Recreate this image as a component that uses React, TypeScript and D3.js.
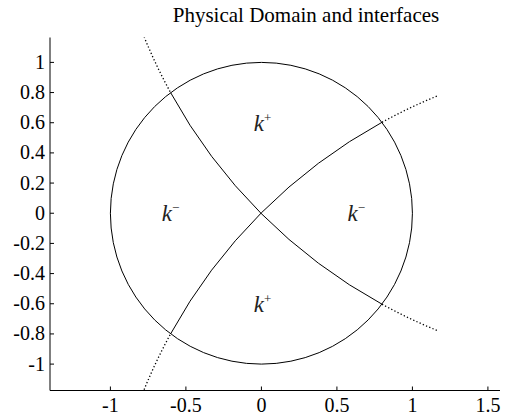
import React from "react";
import * as d3 from "d3";

// axis ticks
const xTicks = [-1, -0.5, 0, 0.5, 1, 1.5];
const yTicks = [-1, -0.8, -0.6, -0.4, -0.2, 0, 0.2, 0.4, 0.6, 0.8, 1];

// physical domain: unit circle
const domainCenter = [0, 0];
const domainRadius = 1;

// two interfaces, each a circular arc through the origin
const interfaceCenters = [
  [2.5, 2.5],
  [2.5, -2.5],
];
const interfaceRadius = 3.536;
// where each interface meets the circle
const interfaceInside = [
  [[-0.6, 0.8], [0.8, -0.6]],
  [[-0.6, -0.8], [0.8, 0.6]],
];
// where the dotted continuation stops
const interfaceOutside = [
  [[-0.79, 1.19], [1.175, -0.778]],
  [[-0.79, -1.19], [1.175, 0.778]],
];

const regionLabels = [
  { sign: "+", x: -0.05, y: 0.6 },
  { sign: "\u2212", x: -0.66, y: 0 },
  { sign: "\u2212", x: 0.57, y: 0 },
  { sign: "+", x: -0.05, y: -0.6 },
];

const title = "Physical Domain and interfaces";

const W = 508;
const H = 419;
const plot = { left: 50, right: 500, top: 37.5, bottom: 390.5 };
const font = "'Liberation Serif', 'Times New Roman', serif";

export default function App() {
  const x = d3.scaleLinear().domain([-1.4, 1.58]).range([plot.left, plot.right]);
  const y = d3.scaleLinear().domain([-1.175, 1.165]).range([plot.bottom, plot.top]);
  const unit = x(1) - x(0);

  // arc from p0 to p1 around data-space center c, in pixel space
  const arcPath = (c: number[], r: number, p0: number[], p1: number[]) => {
    const cx = x(c[0]);
    const cy = y(c[1]);
    const a0 = Math.atan2(y(p0[1]) - cy, x(p0[0]) - cx);
    const a1 = Math.atan2(y(p1[1]) - cy, x(p1[0]) - cx);
    let diff = a1 - a0;
    while (diff > Math.PI) diff -= 2 * Math.PI;
    while (diff < -Math.PI) diff += 2 * Math.PI;
    const p = d3.path();
    p.arc(cx, cy, r * unit, a0, a0 + diff, diff < 0);
    return p.toString();
  };

  return (
    <svg
      width={W}
      height={H}
      style={{ position: "absolute", left: 0, top: 0, background: "#fff" }}
      fontFamily={font}
    >
      <defs>
        <clipPath id="plot-clip">
          <rect x={plot.left} y={plot.top} width={plot.right - plot.left} height={plot.bottom - plot.top} />
        </clipPath>
      </defs>

      <text x={306} y={22} fontSize={21} textAnchor="middle" fill="#000">
        {title}
      </text>

      <g clipPath="url(#plot-clip)" fill="none" stroke="#000" strokeWidth={1}>
        <ellipse
          cx={x(domainCenter[0])}
          cy={y(domainCenter[1])}
          rx={domainRadius * unit}
          ry={y(0) - y(domainRadius)}
        />
        {interfaceCenters.map((c, i) => (
          <g key={i}>
            <path d={arcPath(c, interfaceRadius, interfaceInside[i][0], interfaceInside[i][1])} />
            <path
              d={arcPath(c, interfaceRadius, interfaceOutside[i][0], interfaceInside[i][0])}
              strokeDasharray="1.3 2.2"
              strokeWidth={1.3}
            />
            <path
              d={arcPath(c, interfaceRadius, interfaceInside[i][1], interfaceOutside[i][1])}
              strokeDasharray="1.3 2.2"
              strokeWidth={1.3}
            />
          </g>
        ))}
      </g>

      {regionLabels.map((l, i) => (
        <text key={i} x={x(l.x)} y={y(l.y) + 8} fontSize={23} fill="#222">
          <tspan fontStyle="italic">k</tspan>
          <tspan fontSize={13} dy={-9}>
            {l.sign}
          </tspan>
        </text>
      ))}

      {/* axes */}
      <g stroke="#000" strokeWidth={1}>
        <line x1={plot.left} x2={plot.right} y1={plot.bottom} y2={plot.bottom} />
        <line x1={plot.left} x2={plot.left} y1={plot.top} y2={plot.bottom} />
        {xTicks.map((t) => (
          <line key={t} x1={x(t)} x2={x(t)} y1={plot.bottom} y2={plot.bottom - 4} />
        ))}
        {yTicks.map((t) => (
          <line key={t} x1={plot.left} x2={plot.left + 4} y1={y(t)} y2={y(t)} />
        ))}
      </g>
      <g fontSize={20} fill="#000">
        {xTicks.map((t) => (
          <text key={t} x={x(t)} y={plot.bottom + 21} textAnchor="middle">
            {String(t)}
          </text>
        ))}
        {yTicks.map((t) => (
          <text key={t} x={plot.left - 5} y={y(t) + 6.5} textAnchor="end">
            {String(t)}
          </text>
        ))}
      </g>
    </svg>
  );
}
